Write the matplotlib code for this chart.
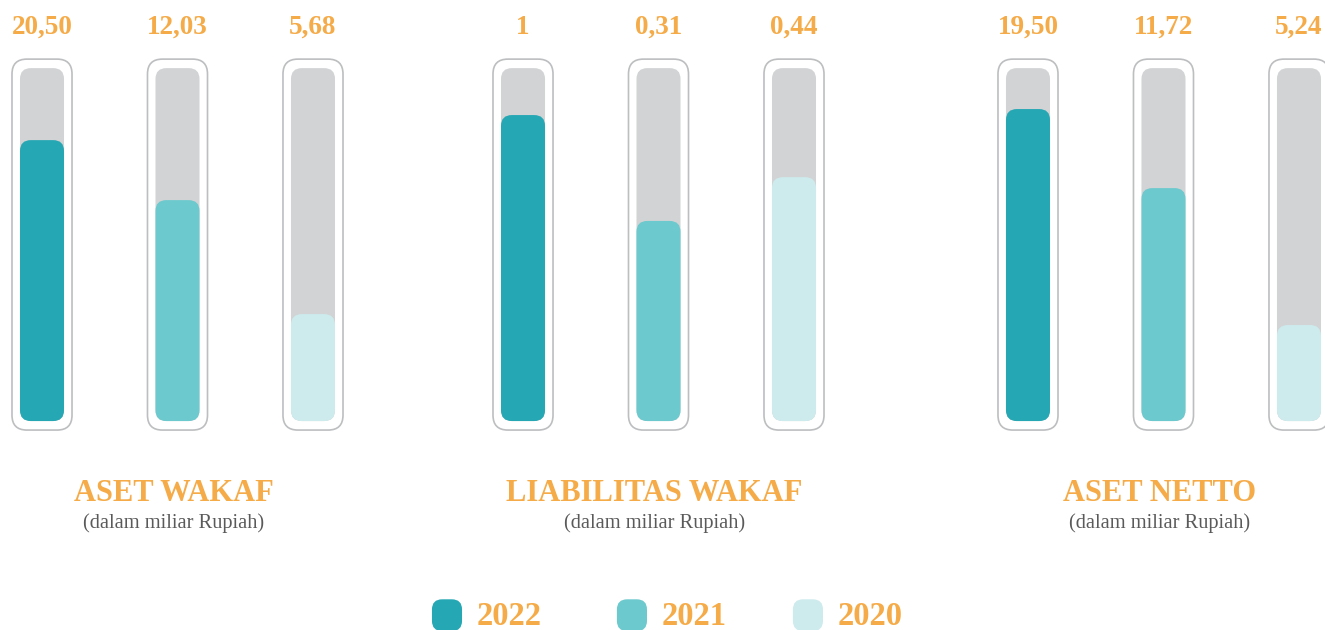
import matplotlib
matplotlib.use("Agg")
import matplotlib.pyplot as plt
from matplotlib.patches import FancyBboxPatch

# data
groups = ["ASET WAKAF", "LIABILITAS WAKAF", "ASET NETTO"]
subtitle = "(dalam miliar Rupiah)"
years = ["2022", "2021", "2020"]
value_labels = [["20,50", "12,03", "5,68"],
                ["1", "0,31", "0,44"],
                ["19,50", "11,72", "5,24"]]
# fill level of each tube (fraction of tube height), as drawn
fill_levels = [[0.796, 0.626, 0.303],
               [0.867, 0.567, 0.691],
               [0.884, 0.660, 0.272]]

YEAR_COLORS = ["#25A7B4", "#6CC9CD", "#CDEBED"]
TRACK = "#D1D3D4"
OUTLINE = "#BCBEC0"
ORANGE = "#F5AB48"
GREY_TXT = "#5A5A5A"
plt.rcParams["font.family"] = ["Liberation Serif", "DejaVu Serif"]

# layout: x unit = one tube slot, y unit = one tube height
group_start = [0.0, 3.55, 7.277]
ASP = 135.5 / 353.0          # y-units per x-unit in pixels, for round corners
IN_W, OUT_W = 0.325, 0.443
IN_R, OUT_R = 0.08, 0.11
OUT_PAD = 0.0255

fig = plt.figure(figsize=(13.25, 6.3), dpi=100)
ax = fig.add_axes([0, 0, 1, 1])
ax.set_xlim(-0.31, 9.469)
ax.set_ylim(-0.592, 1.193)
ax.axis("off")

def rbox(x, y0, w, h, r, **kw):
    p = FancyBboxPatch((x - w / 2, y0), w, h, boxstyle=f"round,pad=0,rounding_size={r}",
                       mutation_aspect=ASP, **kw)
    ax.add_patch(p)

for g, name in enumerate(groups):
    for i in range(len(years)):
        x = group_start[g] + i
        rbox(x, -OUT_PAD, OUT_W, 1 + 2 * OUT_PAD, OUT_R, fc="white", ec=OUTLINE, lw=1.2)
        rbox(x, 0, IN_W, 1, IN_R, fc=TRACK, ec="none")
        rbox(x, 0, IN_W, fill_levels[g][i], IN_R, fc=YEAR_COLORS[i], ec="none")
        ax.text(x, 1.116, value_labels[g][i], ha="center", va="center",
                fontsize=19.5, fontweight="bold", color=ORANGE)
    cx = group_start[g] + 1 - 0.03
    ax.text(cx, -0.205, name, ha="center", va="center", fontsize=22,
            fontweight="bold", color=ORANGE)
    ax.text(cx, -0.29, subtitle, ha="center", va="center", fontsize=14.7, color=GREY_TXT)

# legend
leg_x = [2.989, 4.354, 5.653]
for i, yr in enumerate(years):
    rbox(leg_x[i], -0.595, 0.222, 0.09, 0.075, fc=YEAR_COLORS[i], ec="none")
    ax.text(leg_x[i] + 0.22, -0.555, yr, ha="left", va="center", fontsize=23.5,
            fontweight="bold", color=ORANGE)

fig.savefig("out.png", dpi=100)
plt.close(fig)
